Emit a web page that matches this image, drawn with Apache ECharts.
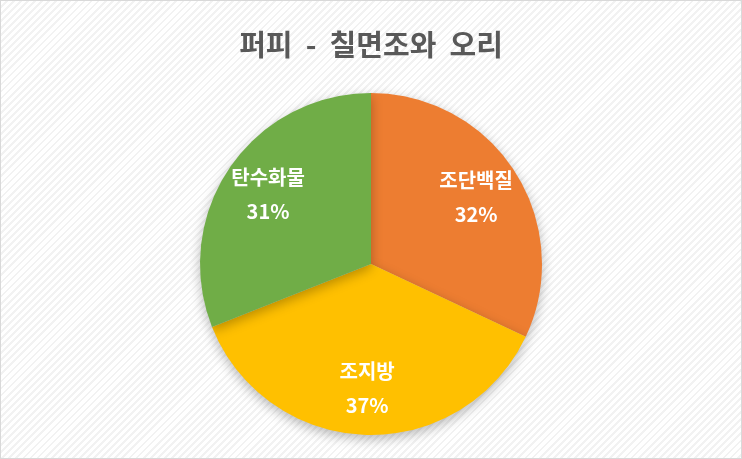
<!DOCTYPE html>
<html>
<head>
<meta charset="utf-8">
<script src="https://cdn.jsdelivr.net/npm/echarts@6/dist/echarts.min.js"></script>
<style>
    html, body { margin: 0; padding: 0; }
    #chart {
        width: 740px;
        height: 457px;
        border: 1px solid #d9d9d9;
        background: repeating-linear-gradient(135deg, #ffffff 0px, #ffffff 3px, #f2f2f2 3px, #f2f2f2 5px);
    }
</style>
</head>
<body>
<div id="chart"></div>
<script>
// 데이터
var title = '퍼피  -  칠면조와  오리';
var categories = ['조단백질', '조지방', '탄수화물'];
var values = [32, 37, 31];
var colors = ['#ED7D31', '#FFC000', '#70AD47'];

var pieData = categories.map(function (name, i) {
    return {name: name, value: values[i], itemStyle: {color: colors[i]}};
});

var myChart = echarts.init(document.getElementById('chart'));

var option = {
    title: {
        text: title,
        left: 'center',
        top: 24,
        textStyle: {
            fontFamily: 'Noto Sans CJK KR',
            fontSize: 29,
            fontWeight: 'bold',
            color: '#595959'
        }
    },
    series: [
        {
            // 파이 본체
            type: 'pie',
            center: [370, 263],
            radius: [0, 171],
            startAngle: 90,
            clockwise: true,
            silent: true,
            label: {show: false},
            labelLine: {show: false},
            itemStyle: {
                shadowBlur: 12,
                shadowOffsetY: 4,
                shadowColor: 'rgba(0,0,0,0.28)'
            },
            data: pieData
        },
        {
            // 라벨 전용 (투명)
            type: 'pie',
            center: [370, 263],
            radius: [72, 171],
            startAngle: 90,
            clockwise: true,
            silent: true,
            itemStyle: {color: 'rgba(0,0,0,0)'},
            label: {
                show: true,
                position: 'inside',
                formatter: '{n|{b}}\n{p|{d}%}',
                rich: {
                    n: {
                        fontFamily: 'Noto Sans CJK KR',
                        fontSize: 20,
                        fontWeight: 'bold',
                        color: '#ffffff',
                        lineHeight: 34
                    },
                    p: {
                        fontFamily: 'Noto Sans CJK KR',
                        fontSize: 20,
                        fontWeight: 'bold',
                        color: '#ffffff',
                        lineHeight: 34
                    }
                }
            },
            labelLine: {show: false},
            data: categories.map(function (name, i) {
                return {name: name, value: values[i]};
            })
        }
    ]
};

myChart.setOption(option);
</script>
</body>
</html>
